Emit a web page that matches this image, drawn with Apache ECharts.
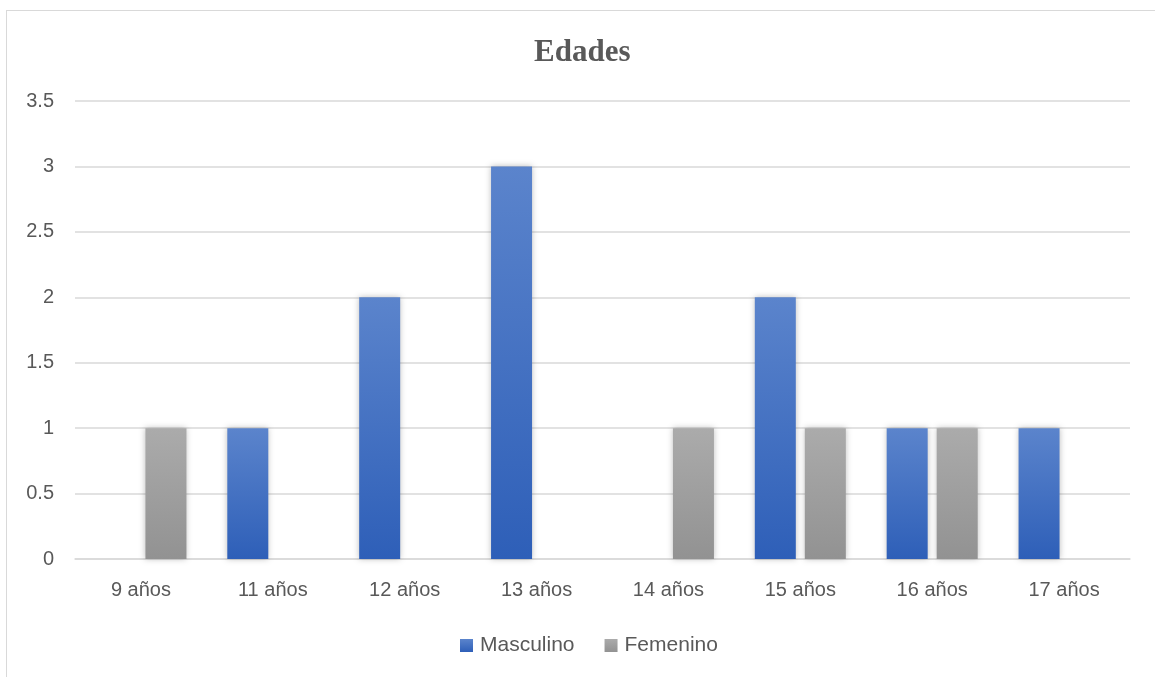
<!DOCTYPE html>
<html>
<head>
<meta charset="utf-8">
<script src="https://cdn.jsdelivr.net/npm/echarts@6/dist/echarts.min.js"></script>
<style>
html,body{margin:0;padding:0;background:#fff;}
#frame{position:absolute;left:6px;top:10px;width:1160px;height:680px;border:1.5px solid #d9d9d9;box-sizing:border-box;}
#chart{position:absolute;left:0;top:0;width:1155px;height:677px;}
</style>
</head>
<body>
<div id="frame"></div>
<div id="chart"></div>
<script>
const categories = ['9 años','11 años','12 años','13 años','14 años','15 años','16 años','17 años'];
const masculino = [0,1,2,3,0,2,1,1];
const femenino = [1,0,0,0,1,1,1,0];
const titleText = 'Edades';
const seriesNames = ['Masculino','Femenino'];

const chart = echarts.init(document.getElementById('chart'));
const font = 'Liberation Sans, Arial, sans-serif';
function grad(top, bottom){
  return new echarts.graphic.LinearGradient(0,0,0,1,[{offset:0,color:top},{offset:1,color:bottom}]);
}
chart.setOption({
  backgroundColor: 'transparent',
  animation: false,
  title: {
    text: titleText, left: 529, top: 32,
    textStyle: {fontFamily: 'Liberation Serif, Times New Roman, serif', fontWeight: 'bold', fontSize: 31, color: '#595959'}
  },
  grid: {left: 75, right: 25, top: 101, bottom: 118, containLabel: false},
  legend: {
    top: 630, left: 455, itemWidth: 13, itemHeight: 13, itemGap: 30,
    icon: 'rect',
    textStyle: {fontFamily: font, fontSize: 21, color: '#595959', padding: [0,0,0,2]},
    data: seriesNames
  },
  xAxis: {
    type: 'category', data: categories,
    axisLine: {lineStyle: {color: '#d9d9d9', width: 1.5}},
    axisTick: {show: false},
    axisLabel: {fontFamily: font, fontSize: 20, color: '#595959', margin: 21}
  },
  yAxis: {
    type: 'value', min: 0, max: 3.5, interval: 0.5,
    axisLine: {show: false}, axisTick: {show: false},
    splitLine: {lineStyle: {color: '#d9d9d9', width: 1.5}},
    axisLabel: {fontFamily: font, fontSize: 20, color: '#595959', margin: 21}
  },
  series: [
    {
      name: seriesNames[0], type: 'bar', data: masculino, barWidth: 41, barGap: '22%',
      itemStyle: {color: grad('#5b84cc','#2e5fb8'), shadowBlur: 6, shadowColor: 'rgba(0,0,0,0.25)'}
    },
    {
      name: seriesNames[1], type: 'bar', data: femenino, barWidth: 41,
      itemStyle: {color: grad('#ababab','#929292'), shadowBlur: 6, shadowColor: 'rgba(0,0,0,0.25)'}
    }
  ]
});
</script>
</body>
</html>
